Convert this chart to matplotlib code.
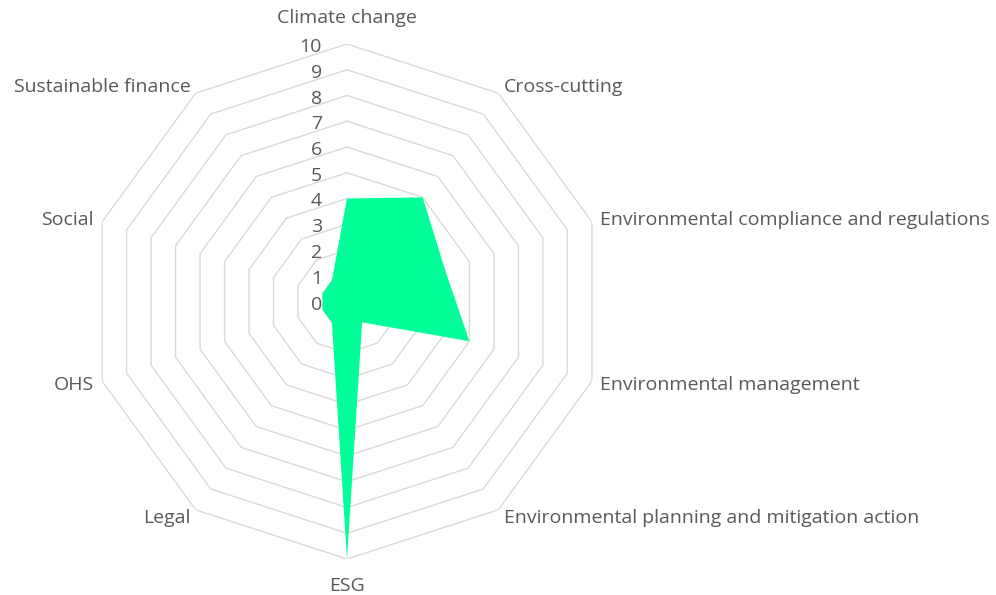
import numpy as np
import matplotlib
matplotlib.use("Agg")
import matplotlib.pyplot as plt

categories = ["Climate change", "Cross-cutting", "Environmental compliance and regulations",
              "Environmental management", "Environmental planning and mitigation action",
              "ESG", "Legal", "OHS", "Social", "Sustainable finance"]
values = [4, 5, 4, 5, 1, 10, 1, 1, 1, 1]
tick_values = list(range(0, 11))

plt.rcParams['font.family'] = ['Open Sans', 'DejaVu Sans']
text_color = '#595959'
grid_color = '#d9d9d9'
fill_color = '#00FF99'
fs = 14

fig = plt.figure(figsize=(9.96, 5.95), dpi=100)
cx, cy, rad = 347 / 996, 1 - 301.5 / 595, 257.5
ax = fig.add_axes([cx - rad / 996, cy - rad / 595, 2 * rad / 996, 2 * rad / 595], projection='polar')
ax.set_theta_zero_location('N')
ax.set_theta_direction(-1)
ax.set_ylim(0, 10)
ax.grid(False)
ax.spines['polar'].set_visible(False)
ax.set_xticks([])
ax.set_yticks([])
ax.patch.set_alpha(0)

n = len(categories)
angles = np.arange(n) * 2 * np.pi / n
closed = np.concatenate([angles, angles[:1]])

# decagon grid (rings only)
for r in tick_values[1:]:
    ax.plot(closed, [r] * (n + 1), color=grid_color, lw=1.0, zorder=1)

vals = values + values[:1]
ax.fill(closed, vals, color=fill_color, lw=0, zorder=2)

# radial tick labels
for t in tick_values:
    ax.annotate(str(t), xy=(0, t), xytext=(-25, -3), textcoords='offset pixels',
                ha='right', va='center', fontsize=fs, color=text_color, zorder=3)

# category labels
for a, lab in zip(angles, categories):
    s, c = np.sin(a), np.cos(a)
    if abs(s) < 1e-6:
        off = (0, 26 if c > 0 else -27)
        ha = 'center'
    else:
        off = (9 * s, 9 * c - 1)
        ha = 'left' if s > 0 else 'right'
    ax.annotate(lab, xy=(a, tick_values[-1]), xytext=off, textcoords='offset pixels',
                ha=ha, va='center', fontsize=fs, color=text_color, annotation_clip=False)

fig.savefig('out.png', dpi=100)
